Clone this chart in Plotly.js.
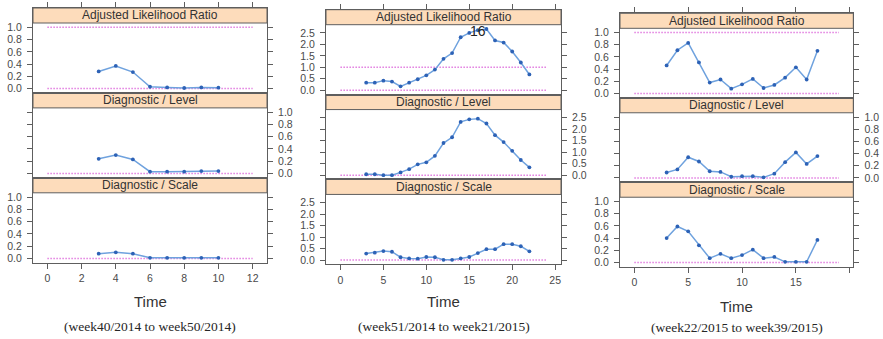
<!DOCTYPE html>
<html>
<head>
<meta charset="utf-8">
<script src="https://cdn.plot.ly/plotly-3.0.1.min.js"></script>
<style>
  html, body { margin: 0; padding: 0; background: #ffffff; }
  #chart { width: 883px; height: 339px; }
</style>
</head>
<body>
<div id="chart"></div>
<script>
// Weekly surveillance statistics over three seasonal windows,
// one lattice-style column per window, one strip per statistic.
const stripTitles = ['Adjusted Likelihood Ratio', 'Diagnostic / Level', 'Diagnostic / Scale'];
const periodLabels = ['(week40/2014 to week50/2014)', '(week51/2014 to week21/2015)', '(week22/2015 to week39/2015)'];
const timeTitle = 'Time';

// Window 1: week40/2014 - week50/2014
const time1 = [3, 4, 5, 6, 7, 8, 9, 10];
const alr1 = [0.28, 0.37, 0.27, 0.03, 0.02, 0.01, 0.02, 0.015];
const level1 = [0.24, 0.30, 0.23, 0.03, 0.03, 0.03, 0.04, 0.04];
const scale1 = [0.077, 0.10, 0.077, 0.01, 0.01, 0.01, 0.01, 0.01];

// Window 2: week51/2014 - week21/2015
const time2 = [3, 4, 5, 6, 7, 8, 9, 10, 11, 12, 13, 14, 15, 16, 17, 18, 19, 20, 21, 22];
const alr2 = [0.33, 0.33, 0.42, 0.38, 0.17, 0.33, 0.48, 0.65, 0.90, 1.37, 1.62, 2.31, 2.50, 2.62, 2.67, 2.17, 2.08, 1.69, 1.21, 0.69];
const level2 = [0.04, 0.04, 0.00, 0.00, 0.12, 0.26, 0.47, 0.56, 0.84, 1.40, 1.65, 2.32, 2.43, 2.46, 2.25, 1.74, 1.44, 1.06, 0.66, 0.34];
const scale2 = [0.28, 0.32, 0.39, 0.36, 0.12, 0.07, 0.06, 0.13, 0.12, 0.01, 0.01, 0.07, 0.13, 0.30, 0.47, 0.47, 0.69, 0.69, 0.60, 0.38];
const flaggedWeek2 = 16;

// Window 3: week22/2015 - week39/2015
const time3 = [3, 4, 5, 6, 7, 8, 9, 10, 11, 12, 13, 14, 15, 16, 17];
const alr3 = [0.46, 0.71, 0.83, 0.51, 0.18, 0.23, 0.08, 0.15, 0.24, 0.09, 0.14, 0.26, 0.43, 0.23, 0.70];
const level3 = [0.09, 0.14, 0.34, 0.27, 0.11, 0.10, 0.02, 0.03, 0.03, 0.01, 0.07, 0.26, 0.42, 0.23, 0.36];
const scale3 = [0.40, 0.59, 0.51, 0.28, 0.07, 0.14, 0.07, 0.12, 0.21, 0.07, 0.09, 0.01, 0.01, 0.01, 0.37];

// Reference levels (dotted) and the time span they cover
const alrRefLevels = [0, 1];
const diagRefLevels = [0];
const refSpan1 = [0, 12];
const refSpan2 = [0, 24];
const refSpan3 = [0, 19];

// Tick marks
const xTicks1 = [0, 2, 4, 6, 8, 10, 12];
const xTicks2 = [0, 5, 10, 15, 20, 25];
const xTicks3 = [0, 5, 10, 15, 20];
const xTickText3 = ['0', '5', '10', '15', ''];
const yTicksUnit = [0, 0.2, 0.4, 0.6, 0.8, 1.0];
const yTickTextUnit = ['0.0', '0.2', '0.4', '0.6', '0.8', '1.0'];
const yTicksWide = [0, 0.5, 1.0, 1.5, 2.0, 2.5];
const yTickTextWide = ['0.0', '0.5', '1.0', '1.5', '2.0', '2.5'];

// ---- styling / geometry ----
const W = 883, H = 339;
const STRIP = 15;          // strip height in px
const PAD = 0.07;          // lattice-style axis padding
const lineCol = '#6fa2de', markCol = '#2d62b6', refCol = '#e27ee0';
const frameCol = '#5e5e5e', stripFill = '#fddcbb';
const sans = 'Liberation Sans, Arial, sans-serif';

const panels = [
  { time: time1, series: [alr1, level1, scale1], span: refSpan1, xTicks: xTicks1, xText: xTicks1.map(String),
    yTicks: yTicksUnit, yText: yTickTextUnit, box: [33, 267, 8, 262.7], timeY: 301, capY: 326 },
  { time: time2, series: [alr2, level2, scale2], span: refSpan2, xTicks: xTicks2, xText: xTicks2.map(String),
    yTicks: yTicksWide, yText: yTickTextWide, box: [326, 561, 9.7, 264.3], timeY: 301.5, capY: 326 },
  { time: time3, series: [alr3, level3, scale3], span: refSpan3, xTicks: xTicks3, xText: xTickText3,
    yTicks: yTicksUnit, yText: yTickTextUnit, box: [620, 853.3, 13.3, 266.7], timeY: 306, capY: 327.5 }
];

const data = [];
const layout = {
  width: W, height: H,
  margin: { l: 0, r: 0, t: 0, b: 0 },
  paper_bgcolor: '#ffffff', plot_bgcolor: '#ffffff',
  showlegend: false, hovermode: false,
  shapes: [], annotations: []
};

panels.forEach((p, pi) => {
  const [left, right, top, bottom] = p.box;
  const rowH = (bottom - top) / 3;
  const plotFrac = (rowH - STRIP) / rowH;   // share of each row below its strip

  // shared y scale across the three strips of a window
  let yMax = 1;
  p.series.forEach(s => { yMax = Math.max(yMax, ...s); });
  const yLo = -PAD * yMax, yHi = yMax * (1 + PAD);
  const yTop = yLo + (yHi - yLo) / plotFrac;
  const xSpan = p.span[1] - p.span[0];
  const xRange = [p.span[0] - PAD * xSpan, p.span[1] + PAD * xSpan];

  for (let r = 0; r < 3; r++) {
    const n = pi * 3 + r + 1;
    const xid = n === 1 ? 'x' : 'x' + n;
    const yid = n === 1 ? 'y' : 'y' + n;
    const xkey = n === 1 ? 'xaxis' : 'xaxis' + n;
    const ykey = n === 1 ? 'yaxis' : 'yaxis' + n;
    const rTop = top + r * rowH, rBot = rTop + rowH;

    const xa = {
      domain: [left / W, right / W], anchor: yid, range: xRange,
      showgrid: false, zeroline: false, showline: true, mirror: true,
      linecolor: frameCol, linewidth: 1, tickcolor: frameCol, ticklen: 5, tickwidth: 1,
      tickvals: p.xTicks, ticktext: p.xText,
      tickfont: { family: sans, size: 10.5, color: '#4a4a4a' }
    };
    if (r === 0) { xa.side = 'top'; xa.ticks = 'outside'; xa.showticklabels = false; }
    else if (r === 1) { xa.ticks = ''; xa.showticklabels = false; }
    else { xa.side = 'bottom'; xa.ticks = 'outside'; xa.showticklabels = true; xa.ticklabelstandoff = 1; }
    layout[xkey] = xa;

    layout[ykey] = {
      domain: [1 - rBot / H, 1 - rTop / H], anchor: xid, range: [yLo, yTop],
      side: r === 1 ? 'right' : 'left',
      showgrid: false, zeroline: false, showline: true, mirror: 'allticks',
      linecolor: frameCol, linewidth: 1, ticks: 'outside', tickcolor: frameCol, ticklen: 5, tickwidth: 1,
      tickvals: p.yTicks, ticktext: p.yText, ticklabelstandoff: 3,
      tickfont: { family: sans, size: 10.5, color: '#4a4a4a' }
    };

    // strip header
    layout.shapes.push({
      type: 'rect', xref: xid + ' domain', yref: yid + ' domain',
      x0: 0, x1: 1, y0: plotFrac, y1: 1,
      fillcolor: stripFill, line: { color: frameCol, width: 1 }, layer: 'below'
    });
    layout.annotations.push({
      xref: xid + ' domain', yref: yid + ' domain', x: 0.5, y: (plotFrac + 1) / 2,
      xanchor: 'center', yanchor: 'middle', showarrow: false,
      text: stripTitles[r], font: { family: sans, size: 12, color: '#333333' }
    });

    // dotted reference levels
    (r === 0 ? alrRefLevels : diagRefLevels).forEach(level => {
      data.push({
        type: 'scatter', mode: 'lines', xaxis: xid, yaxis: yid,
        x: p.span, y: [level, level],
        line: { color: refCol, width: 1.5, dash: '1.5px,1.5px' }
      });
    });

    // statistic series
    data.push({
      type: 'scatter', mode: 'lines+markers', xaxis: xid, yaxis: yid,
      x: p.time, y: p.series[r],
      line: { color: lineCol, width: 1.5 },
      marker: { color: markCol, size: 3.8 }
    });
  }

  const cx = (left + right) / 2 / W;
  layout.annotations.push({
    xref: 'paper', yref: 'paper', x: cx, y: 1 - p.timeY / H, xanchor: 'center', yanchor: 'middle',
    showarrow: false, text: timeTitle, font: { family: sans, size: 15, color: '#333333' }
  });
  layout.annotations.push({
    xref: 'paper', yref: 'paper', x: cx, y: 1 - p.capY / H, xanchor: 'center', yanchor: 'middle',
    showarrow: false, text: periodLabels[pi], font: { family: 'Liberation Serif, Times New Roman, serif', size: 13.5, color: '#262626' }
  });
});

// label the flagged week in window 2
const flagIdx = time2.indexOf(flaggedWeek2);
layout.annotations.push({
  xref: 'x4', yref: 'y4', x: flaggedWeek2, y: alr2[flagIdx],
  xanchor: 'center', yanchor: 'middle', showarrow: false, yshift: -1,
  text: String(flaggedWeek2), font: { family: sans, size: 14, color: '#222222' }
});

Plotly.newPlot('chart', data, layout, { staticPlot: true, displayModeBar: false });
</script>
</body>
</html>
